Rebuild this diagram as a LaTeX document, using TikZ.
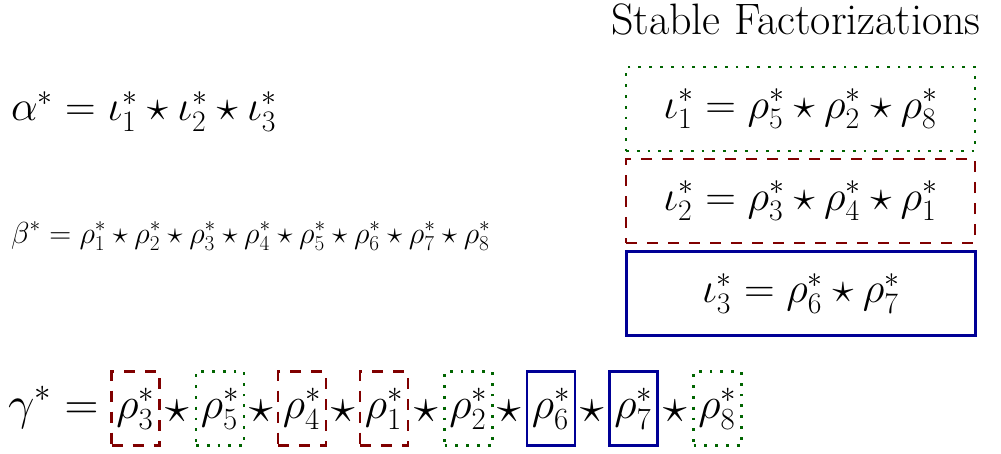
\RequirePackage{fix-cm}
\documentclass[tikz,border=0pt]{standalone}
\definecolor{fgreen}{RGB}{0,100,0}
\definecolor{fred}{RGB}{128,0,0}
\definecolor{fblue}{RGB}{0,0,150}
\begin{document}
\begin{tikzpicture}[x=1pt,y=-1pt,
  titlefont/.style={font=\fontsize{44}{52}\selectfont, inner sep=0pt},
  big/.style={font=\fontsize{42.5}{50}\selectfont, inner sep=0pt},
  gline/.style={font=\fontsize{44}{52}\selectfont, inner sep=0pt},
  glabel/.style={font=\fontsize{47}{56}\selectfont, inner sep=0pt},
  gstar/.style={font=\fontsize{48}{56}\selectfont, inner sep=0pt},
  small/.style={font=\fontsize{30.4}{36}\selectfont, inner sep=0pt},
  gbox/.style={draw=fgreen, line width=2.8pt, dash pattern=on 2.8pt off 8pt},
  rbox/.style={draw=fred, line width=2.8pt, dash pattern=on 11pt off 10pt},
  bbox/.style={draw=fblue, line width=2.8pt},
  bigbox/.style={big, minimum width=349pt, minimum height=84pt},
  termbox/.style={gline, minimum width=48pt, minimum height=74pt}]
\useasboundingbox (0,0) rectangle (1001,453);

\node[titlefont, anchor=base west] (title) at (611,34) {Stable Factorizations};

\node[bigbox, gbox] (i1) at (800.5,109) {$\iota_1^* = \rho_5^* \star \rho_2^* \star \rho_8^*$};
\node[bigbox, rbox] (i2) at (800.5,201) {$\iota_2^* = \rho_3^* \star \rho_4^* \star \rho_1^*$};
\node[bigbox, bbox] (i3) at (801,293.5) {$\iota_3^* = \rho_6^* \star \rho_7^*$};

\node[big, anchor=base west] (alpha) at (11,120.5) {$\alpha^* = \iota_1^* \star \iota_2^* \star \iota_3^*$};
\node[small, anchor=base west] (beta) at (11,243) {$\beta^* = \rho_1^* \star \rho_2^* \star \rho_3^* \star \rho_4^* \star \rho_5^* \star \rho_6^* \star \rho_7^* \star \rho_8^*$};

\node[glabel, anchor=base west] (gamma) at (8,419) {$\gamma^* =$};
\node[termbox, rbox] (g1) at (135.5,408.5) {$\rho_3^*$};
\node[termbox, gbox] (g2) at (220,408.5) {$\rho_5^*$};
\node[termbox, rbox] (g3) at (302,408.5) {$\rho_4^*$};
\node[termbox, rbox] (g4) at (384,408.5) {$\rho_1^*$};
\node[termbox, gbox] (g5) at (468.5,408.5) {$\rho_2^*$};
\node[termbox, bbox] (g6) at (551,408.5) {$\rho_6^*$};
\node[termbox, bbox] (g7) at (633.5,408.5) {$\rho_7^*$};
\node[termbox, gbox] (g8) at (717.5,408.5) {$\rho_8^*$};
\node[gstar, anchor=base] (s1) at (177.5,422.5) {$\star$};
\node[gstar, anchor=base] (s2) at (261.5,422.5) {$\star$};
\node[gstar, anchor=base] (s3) at (343,422.5) {$\star$};
\node[gstar, anchor=base] (s4) at (426.5,422.5) {$\star$};
\node[gstar, anchor=base] (s5) at (509.5,422.5) {$\star$};
\node[gstar, anchor=base] (s6) at (592,422.5) {$\star$};
\node[gstar, anchor=base] (s7) at (675.5,422.5) {$\star$};
\end{tikzpicture}
\end{document}
